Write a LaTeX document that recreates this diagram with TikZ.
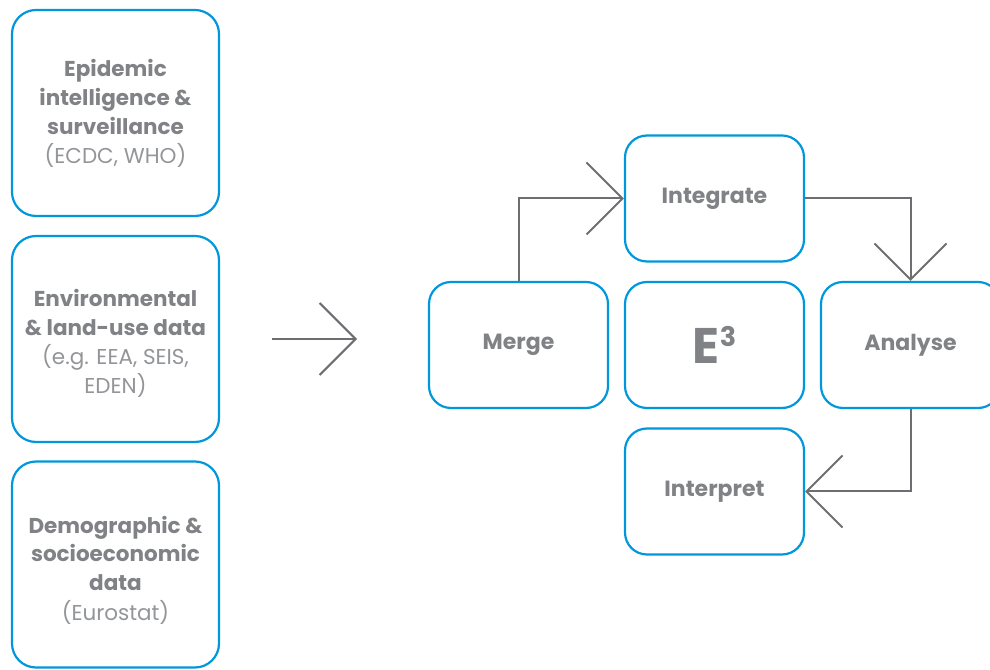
\documentclass[tikz,border=0pt]{standalone}
\usepackage{fontspec}
\setmainfont{Poppins}
\usetikzlibrary{arrows.meta}
\definecolor{boxblue}{HTML}{0098DA}
\definecolor{linegray}{HTML}{6D6E71}
\definecolor{txtgray}{HTML}{808285}
\definecolor{softgray}{HTML}{939598}
\begin{document}
\begin{tikzpicture}[x=1pt,y=1pt,
  srcbox/.style={draw=boxblue, line width=2.2pt, rounded corners=24pt,
    minimum width=207pt, minimum height=206pt, align=center, text=txtgray,
    inner sep=0pt, font=\fontsize{21.5}{29}\selectfont\bfseries},
  stepbox/.style={draw=boxblue, line width=2.2pt, rounded corners=22pt,
    minimum width=179pt, minimum height=126pt, text=txtgray, inner sep=0pt,
    font=\fontsize{22}{25}\selectfont\bfseries},
  conn/.style={draw=linegray, line width=2pt,
    -{Straight Barb[length=36pt,width=72pt,line width=2pt]}}]
\useasboundingbox (0,0) rectangle (990,669);
\clip (0,0) rectangle (990,669);
% source boxes
\node[srcbox] (epi) at (115.5,556) {Epidemic\\intelligence \&\\surveillance\\\textcolor{softgray}{\mdseries (ECDC, WHO)}};
\node[srcbox] (env) at (115.5,330) {\rule{0pt}{26pt}Environmental\\\& land-use data\\\textcolor{softgray}{\mdseries (e.g. EEA, SEIS,}\\\textcolor{softgray}{\mdseries EDEN)}};
\node[srcbox] (dem) at (115.5,104.5) {\rule{0pt}{28pt}Demographic \&\\socioeconomic\\data\\\textcolor{softgray}{\mdseries (Eurostat)}};
% big arrow
\coordinate (a0) at (272,330);
\coordinate (a1) at (357,330);
\draw[conn] (a0) -- (a1);
% cycle boxes
\node[stepbox] (merge) at (518.5,324) {Merge};
\node[stepbox] (integ) at (714.5,470.5) {Integrate};
\node[stepbox] (e3) at (714.5,324) {\fontsize{50}{50}\selectfont E\raisebox{17pt}{\fontsize{27}{27}\selectfont 3}};
\node[stepbox] (anal) at (910.5,324) {Analyse};
\node[stepbox] (interp) at (714.5,177.5) {Interpret};
% connectors
\draw[conn] (merge.north) |- (integ.west);
\draw[conn] (integ.east) -| (anal.north);
\draw[conn] (anal.south) |- (interp.east);
\end{tikzpicture}
\end{document}
